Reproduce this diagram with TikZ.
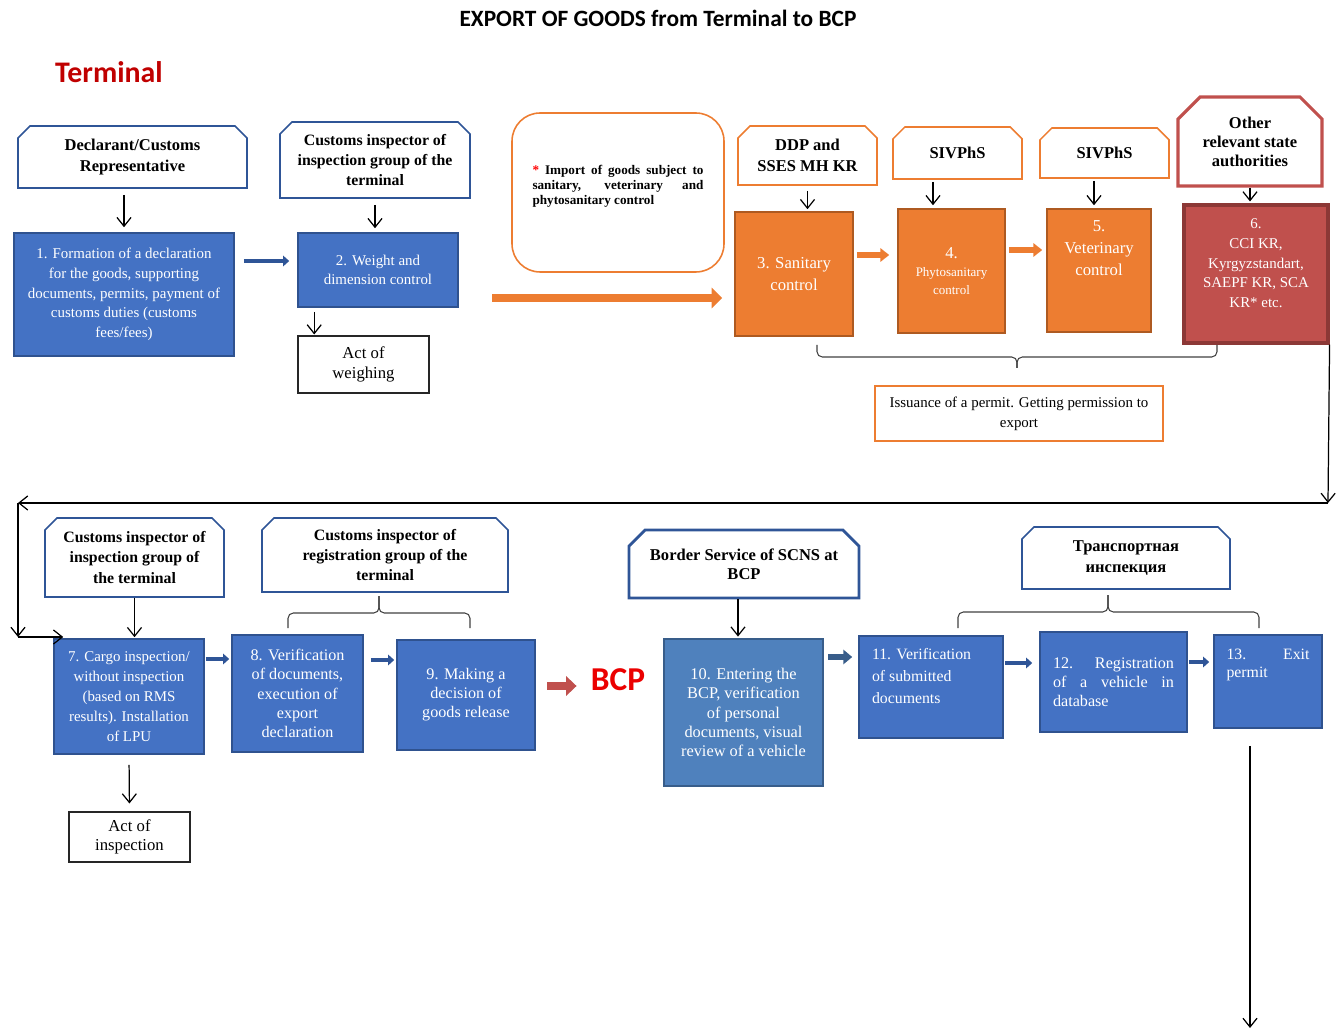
\documentclass[tikz,border=0pt]{standalone}
\usepackage{xcolor}
\usepackage{fontspec}
\setmainfont{Liberation Serif}
\newfontfamily\calibrifont{Carlito}
\usepackage{tikz}
\usetikzlibrary{arrows.meta, shapes.misc}
\definecolor{procblue}{RGB}{68, 114, 196}
\definecolor{procblueedge}{RGB}{47, 82, 143}
\definecolor{headblue}{RGB}{47, 85, 151}
\definecolor{procorange}{RGB}{237, 125, 49}
\definecolor{procorangeedge}{RGB}{174, 90, 33}
\definecolor{procred}{RGB}{192, 80, 77}
\definecolor{procrededge}{RGB}{140, 56, 54}
\definecolor{bcpblue}{RGB}{79, 129, 189}
\definecolor{bcpblueedge}{RGB}{56, 93, 138}
\definecolor{termred}{RGB}{192, 0, 0}
\definecolor{bcpred}{RGB}{235, 0, 0}
\definecolor{bracegray}{RGB}{64, 64, 64}

\begin{document}
\begin{tikzpicture}[x = 0.02cm, y = -0.02cm,
	head/.style = {chamfered rectangle, chamfered rectangle corners = {north west, north east}, chamfered rectangle sep = 0.12cm, draw = headblue, line width = 0.9pt, fill = white, inner sep = 0pt, align = center, font = \bfseries\fontsize{9.4}{12.2}\selectfont},
	orangehead/.style = {head, draw = procorange},
	proc/.style = {rectangle, fill = procblue, draw = procblueedge, line width = 0.9pt, inner sep = 0pt, align = center, text = white, font = \fontsize{8.5}{11.2}\selectfont},
	sanproc/.style = {proc, fill = procorange, draw = procorangeedge, font = \fontsize{9.5}{12.3}\selectfont},
	actbox/.style = {rectangle, draw = black!85, line width = 0.6pt, inner sep = 0pt, align = center, font = \fontsize{9.5}{11}\selectfont},
	arr/.style = {-{Straight Barb[length = 5pt, width = 8pt]}, line width = 0.7pt},
	bluearr/.style = {draw = headblue, line width = 2.2pt, -{Triangle[length = 3.5pt, width = 6pt]}},
	orangearr/.style = {draw = procorange, line width = 3pt, -{Triangle[length = 5pt, width = 7.5pt]}},
	bracket/.style = {draw = bracegray, line width = 0.6pt, rounded corners = 3pt}]
	\useasboundingbox (0, 0) rectangle (1336, 1030);

	\node (title) at (658, 18) [font = \calibrifont\bfseries\fontsize{13.3}{15}\selectfont] {EXPORT OF GOODS from Terminal to BCP};
	\node (terminal) at (109, 72) [text = termred, font = \calibrifont\bfseries\fontsize{17}{20}\selectfont] {Terminal};

	\node (h1) at (132.5, 157) [head, minimum width = 4.58cm, minimum height = 1.24cm] {Declarant/Customs\\Representative};
	\node (h2) at (375, 160) [head, minimum width = 3.8cm, minimum height = 1.52cm, font = \bfseries\fontsize{9}{11.4}\selectfont] {Customs inspector of\\inspection group of the\\terminal};
	\node (note) at (618, 192.5) [rectangle, rounded corners = 0.56cm, draw = procorange, line width = 0.9pt, minimum width = 4.24cm, minimum height = 3.18cm, inner sep = 0pt, font = \bfseries\fontsize{7.5}{8.5}\selectfont] {\parbox[c][1.08cm][t]{3.42cm}{\textcolor{red}{*} Import of goods subject to\linebreak sanitary, veterinary and\linebreak phytosanitary control}};
	\node (h3) at (807.5, 155.5) [orangehead, minimum width = 2.78cm, minimum height = 1.18cm] {DDP and\\SSES MH KR};
	\node (h4) at (957.5, 153) [orangehead, minimum width = 2.58cm, minimum height = 1.04cm] {SIVPhS};
	\node (h5) at (1104.5, 153) [orangehead, minimum width = 2.58cm, minimum height = 1cm] {SIVPhS};
	\node (h6) at (1250, 141.5) [head, draw = procred, line width = 1.8pt, chamfered rectangle sep = 0.22cm, minimum width = 2.88cm, minimum height = 1.78cm, font = \bfseries\fontsize{9.4}{10.8}\selectfont] {Other\\relevant state\\authorities};

	\node (b1) at (124, 294.5) [proc, minimum width = 4.4cm, minimum height = 2.46cm] {1. Formation of a declaration\\for the goods, supporting\\documents, permits, payment of\\customs duties (customs\\fees/fees)};
	\node (b2) at (378, 270) [proc, minimum width = 3.2cm, minimum height = 1.48cm, font = \fontsize{8.5}{10.8}\selectfont] {2. Weight and\\dimension control};
	\node (actw) at (363.5, 364.5) [actbox, minimum width = 2.62cm, minimum height = 1.14cm] {Act of\\weighing};
	\node (b3) at (794, 274) [sanproc, minimum width = 2.36cm, minimum height = 2.48cm] {3. Sanitary\\control};
	\node (b4) at (951.5, 271) [sanproc, minimum width = 2.14cm, minimum height = 2.48cm, font = \fontsize{7.4}{10.2}\selectfont] {{\fontsize{9.5}{10.2}\selectfont 4.}\\Phytosanitary\\control};
	\node (b5) at (1099, 270.5) [sanproc, minimum width = 2.08cm, minimum height = 2.46cm] {\parbox[c][1.98cm][t]{2cm}{\centering 5.\\Veterinary\\control}};
	\node (b6) at (1256, 274) [proc, fill = procred, draw = procrededge, line width = 1.8pt, minimum width = 2.88cm, minimum height = 2.76cm, font = \fontsize{8.5}{11.3}\selectfont] {\parbox[c][2.22cm][t]{2.7cm}{\centering 6.\\CCI KR,\\Kyrgyzstandart,\\SAEPF KR, SCA\\KR* etc.}};
	\node (permit) at (1019, 413.5) [rectangle, draw = procorange, line width = 0.9pt, minimum width = 5.76cm, minimum height = 1.1cm, inner sep = 0pt, align = center, font = \fontsize{8.5}{11.3}\selectfont] {Issuance of a permit. Getting permission to\\export};

	\node (h7) at (134.5, 557.5) [head, minimum width = 3.58cm, minimum height = 1.58cm, font = \bfseries\fontsize{9}{11.4}\selectfont] {Customs inspector of\\inspection group of\\the terminal};
	\node (h8) at (385, 555) [head, minimum width = 4.92cm, minimum height = 1.48cm, font = \bfseries\fontsize{9}{11.2}\selectfont] {Customs inspector of\\registration group of the\\terminal};
	\node (h10) at (744, 564) [head, line width = 1.6pt, chamfered rectangle sep = 0.16cm, minimum width = 4.6cm, minimum height = 1.36cm, font = \bfseries\fontsize{9.4}{10.8}\selectfont] {Border Service of SCNS at\\BCP};
	\node (h11) at (1126, 558) [head, minimum width = 4.16cm, minimum height = 1.24cm] {Транспортная\\инспекция};

	\node (b7) at (129, 696.5) [proc, minimum width = 3cm, minimum height = 2.3cm, font = \fontsize{8.5}{11.3}\selectfont] {7. Cargo inspection/\\without inspection\\(based on RMS\\results). Installation\\of LPU};
	\node (b8) at (297.5, 693.5) [proc, minimum width = 2.62cm, minimum height = 2.34cm, font = \fontsize{9.2}{11}\selectfont] {8. Verification\\of documents,\\execution of\\export\\declaration};
	\node (b9) at (466, 695) [proc, minimum width = 2.76cm, minimum height = 2.2cm, font = \fontsize{9.2}{10.8}\selectfont] {9. Making a\\decision of\\goods release};
	\node (bcp) at (618, 680) [inner sep = 0pt, text = bcpred, font = \calibrifont\bfseries\fontsize{19}{22}\selectfont] {BCP};
	\node (b10) at (743.5, 712.5) [proc, fill = bcpblue, draw = bcpblueedge, line width = 1.6pt, minimum width = 3.18cm, minimum height = 2.94cm, font = \fontsize{9.3}{11}\selectfont] {10. Entering the\\BCP, verification\\of personal\\documents, visual\\review of a vehicle};
	\node (b11) at (931, 687) [proc, minimum width = 2.88cm, minimum height = 2.04cm, font = \fontsize{9}{12.5}\selectfont] {\parbox[c][1.56cm][t]{2.36cm}{\raggedright 11. Verification\\of submitted\\documents}};
	\node (b12) at (1113.5, 682) [proc, minimum width = 2.94cm, minimum height = 2cm, font = \fontsize{9.2}{10.8}\selectfont] {\parbox{2.42cm}{12.\ \ Registration\linebreak of a vehicle in\linebreak database}};
	\node (b13) at (1268, 681.5) [proc, minimum width = 2.16cm, minimum height = 1.86cm, font = \fontsize{9}{10}\selectfont] {\parbox[c][1.28cm][t]{1.66cm}{13.\hfill Exit\\permit}};
	\node (acti) at (129.5, 837) [actbox, minimum width = 2.42cm, minimum height = 1cm] {Act of\\inspection};

	\coordinate (orstart) at (492, 298);
	\coordinate (br1l) at (817, 345);
	\coordinate (br1r) at (1217, 345);
	\coordinate (br1t) at (1017, 368);
	\coordinate (loopr) at (1328, 503);
	\coordinate (loopl) at (18, 503);
	\coordinate (loopd) at (18, 637);
	\coordinate (br2l) at (288, 628);
	\coordinate (br2r) at (470, 628);
	\coordinate (br2t) at (379, 596);
	\coordinate (br3l) at (958, 628);
	\coordinate (br3r) at (1259, 628);
	\coordinate (br3t) at (1108, 595);
	\coordinate (bcpstart) at (547, 686);
	\coordinate (exitend) at (1250, 1028);

	\draw[arr, shorten <= 0.12cm, shorten >= 0.1cm] (h1.south -| b1) -- (b1.north);
	\draw[bluearr, shorten <= 0.18cm, shorten >= 0.16cm] ([yshift = 0.67cm]b1.east) -- ([yshift = 0.67cm]b1.east -| b2.west);
	\draw[arr, shorten <= 0.12cm, shorten >= 0.08cm] (h2.south) -- (h2.south |- b2.north);
	\draw[arr, shorten <= 0.08cm, shorten >= 0.02cm] ([xshift = 0.34cm]b2.south west) -- ([xshift = 0.34cm]b2.south west |- actw.north);
	\draw[orangearr, line width = 5pt, -{Triangle[length = 6pt, width = 11.5pt]}, shorten >= 0.24cm] (orstart) -- (orstart -| b3.west);
	\draw[arr, shorten <= 0.1cm, shorten >= 0.04cm] (h3.south) -- (h3.south |- b3.north);
	\draw[orangearr, shorten <= 0.06cm, shorten >= 0.16cm] (b3.east |- 0,255) -- (b4.west |- 0,255);
	\draw[orangearr, shorten <= 0.06cm, shorten >= 0.08cm] (b4.east |- 0,250) -- (b5.west |- 0,250);
	\draw[arr, shorten <= 0.04cm, shorten >= 0.06cm] ([xshift = -0.49cm]h4.south) -- ([xshift = -0.49cm]h4.south |- b4.north);
	\draw[arr, shorten <= 0.04cm, shorten >= 0.06cm] ([xshift = -0.21cm]h5.south) -- ([xshift = -0.21cm]h5.south |- b5.north);
	\draw[arr, shorten >= 0.04cm] (h6.south) -- (h6.south |- b6.north);
	\draw[bracket] (br1l) |- (br1t |- 0,357) -- (br1t);
	\draw[bracket] (br1r) |- (br1t |- 0,357) -- (br1t);

	\draw[arr] (b6.south east) -- (loopr);
	\draw[arr] (loopr) -- (loopl);
	\draw[arr] (loopl) -- (loopd);
	\draw[arr] (loopd) -- ([xshift = 0.2cm]loopd -| b7.west);

	\draw[arr, shorten >= 0.02cm] (h7.south) -- (h7.south |- b7.north);
	\draw[arr, shorten <= 0.2cm, shorten >= 0.16cm] (b7.south) -- (acti.north);
	\draw[bluearr, shorten <= 0.02cm, shorten >= 0.04cm] (b7.east |- 0,659) -- (b8.west |- 0,659);
	\draw[bluearr, shorten <= 0.14cm, shorten >= 0.04cm] (b8.east |- 0,660) -- (b9.west |- 0,660);
	\draw[bracket] (br2l) |- (br2t |- 0,613) -- (br2t);
	\draw[bracket] (br2r) |- (br2t |- 0,613) -- (br2t);
	\draw[draw = procred, line width = 5pt, -{Triangle[length = 6pt, width = 11pt]}, shorten >= 0.28cm] (bcpstart) -- (bcpstart -| bcp.west);
	\draw[arr, shorten >= 0.02cm] ([xshift = -0.12cm]h10.south) -- ([xshift = -0.12cm]h10.south |- b10.north);
	\draw[bluearr, draw = bcpblueedge, line width = 3.4pt, -{Triangle[length = 5pt, width = 8pt]}, shorten <= 0.08cm, shorten >= 0.12cm] (b10.east |- 0,657) -- (b11.west |- 0,657);
	\draw[bluearr, shorten <= 0.02cm, shorten >= 0.14cm] (b11.east |- 0,663) -- (b12.west |- 0,663);
	\draw[bluearr, shorten <= 0.02cm, shorten >= 0.08cm] (b12.east |- 0,662) -- (b13.west |- 0,662);
	\draw[bracket] (br3l) |- (br3t |- 0,612) -- (br3t);
	\draw[bracket] (br3r) |- (br3t |- 0,612) -- (br3t);
	\draw[arr, shorten <= 0.34cm] (b13.south -| exitend) -- (exitend);
\end{tikzpicture}
\end{document}
